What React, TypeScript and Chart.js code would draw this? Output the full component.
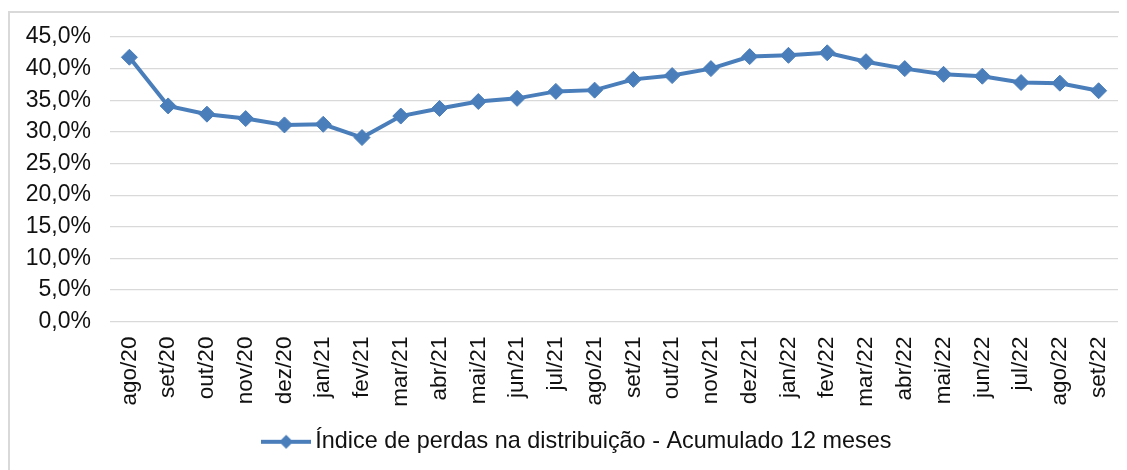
import React, { useEffect, useRef } from 'react';
import { Chart, registerables } from 'chart.js';

Chart.register(...registerables);

const categories = [
  'ago/20', 'set/20', 'out/20', 'nov/20', 'dez/20', 'jan/21', 'fev/21', 'mar/21', 'abr/21',
  'mai/21', 'jun/21', 'jul/21', 'ago/21', 'set/21', 'out/21', 'nov/21', 'dez/21', 'jan/22',
  'fev/22', 'mar/22', 'abr/22', 'mai/22', 'jun/22', 'jul/22', 'ago/22', 'set/22',
];

const lossIndex = [
  41.8, 34.1, 32.8, 32.1, 31.1, 31.2, 29.1, 32.5, 33.7,
  34.8, 35.3, 36.4, 36.6, 38.3, 38.9, 40.0, 41.9, 42.1,
  42.5, 41.1, 40.0, 39.1, 38.8, 37.8, 37.7, 36.5,
];

const yTicks = [0, 5, 10, 15, 20, 25, 30, 35, 40, 45];

const seriesLabel = 'Índice de perdas na distribuição - Acumulado 12 meses';

const BLUE = '#4A7EBB';
const GRID = '#d9d9d9';
const FONT = "'Liberation Sans', Arial, sans-serif";

function makeLegendSymbol(): HTMLCanvasElement {
  const c = document.createElement('canvas');
  c.width = 50;
  c.height = 16;
  const ctx = c.getContext('2d')!;
  ctx.strokeStyle = BLUE;
  ctx.lineWidth = 4;
  ctx.beginPath();
  ctx.moveTo(0, 8);
  ctx.lineTo(50, 8);
  ctx.stroke();
  ctx.fillStyle = BLUE;
  ctx.beginPath();
  ctx.moveTo(25 - 7, 8);
  ctx.lineTo(25, 1);
  ctx.lineTo(25 + 7, 8);
  ctx.lineTo(25, 15);
  ctx.closePath();
  ctx.fill();
  return c;
}

export default function App() {
  const canvasRef = useRef<HTMLCanvasElement | null>(null);

  useEffect(() => {
    if (!canvasRef.current) return;
    const symbol = makeLegendSymbol();
    const chart = new Chart(canvasRef.current, {
      type: 'line',
      data: {
        labels: categories,
        datasets: [
          {
            label: seriesLabel,
            data: lossIndex,
            borderColor: BLUE,
            backgroundColor: BLUE,
            borderWidth: 4,
            pointStyle: 'rectRot',
            pointRadius: 8,
            pointBorderWidth: 1,
            pointBackgroundColor: BLUE,
            pointBorderColor: BLUE,
            tension: 0,
          },
        ],
      },
      options: {
        responsive: false,
        animation: false,
        layout: { padding: { left: 32, right: 9, top: 24, bottom: 6.5 } },
        plugins: {
          tooltip: { enabled: false },
          legend: {
            position: 'bottom',
            labels: {
              usePointStyle: true,
              pointStyle: symbol as any,
              pointStyleWidth: 35,
              color: '#111',
              padding: 10,
              font: { family: FONT, size: 23.4 },
            },
          },
        },
        scales: {
          x: {
            offset: true,
            grid: { display: false, drawTicks: false },
            border: { display: false },
            ticks: {
              minRotation: 90,
              maxRotation: 90,
              autoSkip: false,
              padding: 15,
              color: '#111',
              font: { family: FONT, size: 22.5 },
            },
            afterFit: (scale: any) => {
              scale.height = 98.5;
              scale.paddingLeft = 0;
              scale.paddingRight = 0;
            },
          },
          y: {
            min: 0,
            max: 45,
            grid: { color: GRID, lineWidth: 1.2, drawTicks: false },
            border: { display: false },
            afterBuildTicks: (scale: any) => {
              scale.ticks = yTicks.map((v) => ({ value: v }));
            },
            ticks: {
              padding: 19,
              color: '#111',
              font: { family: FONT, size: 23 },
              callback: (v: any) => Number(v).toFixed(1).replace('.', ',') + '%',
            },
            afterFit: (scale: any) => {
              scale.width = 68;
              scale.paddingTop = 0;
              scale.paddingBottom = 0;
              scale._computeLabelArea = () => undefined;
            },
          },
        },
      },
    });
    return () => chart.destroy();
  }, []);

  return (
    <div style={{ paddingTop: 3 }}>
      <div
        style={{
          borderLeft: `2px solid ${GRID}`,
          borderTop: `2px solid ${GRID}`,
          width: 1117,
          height: 457,
        }}
      >
        <canvas ref={canvasRef} width={1117} height={457} style={{ display: 'block' }} />
      </div>
    </div>
  );
}
